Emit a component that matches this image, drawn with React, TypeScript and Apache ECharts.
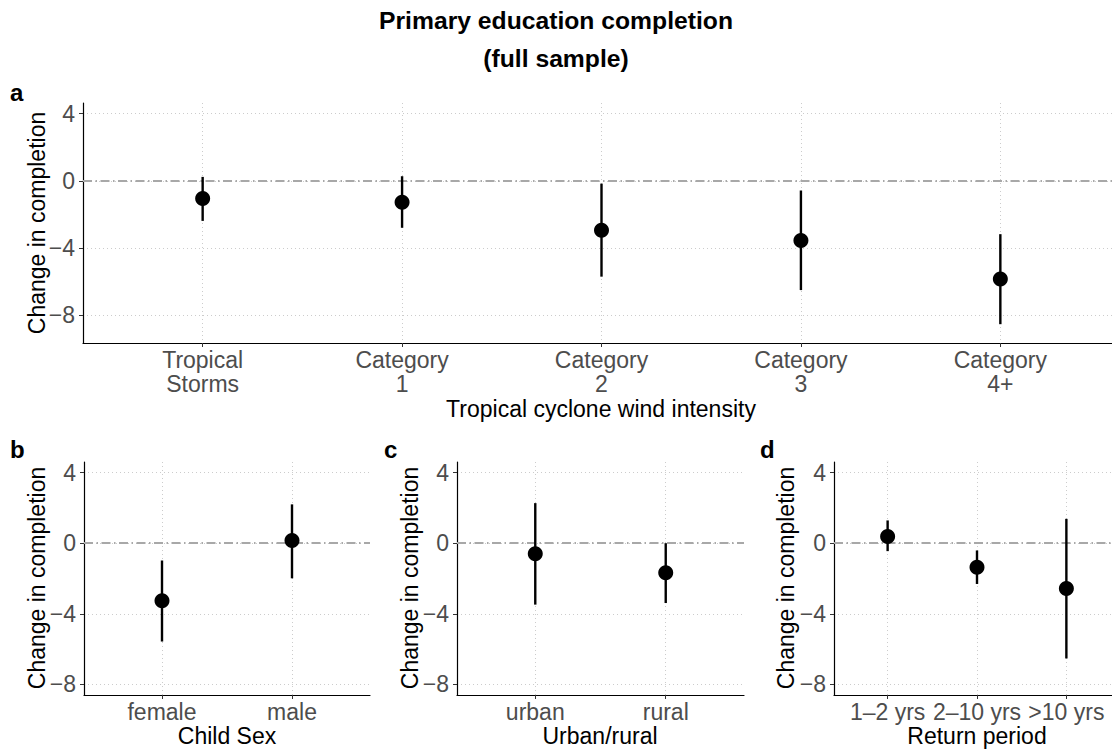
import React, { useEffect, useRef } from "react";
import * as echarts from "echarts";

// ---- data ----
const intensityCategories = ["Tropical\nStorms", "Category\n1", "Category\n2", "Category\n3", "Category\n4+"];
const intensityEstimate = [-1.05, -1.27, -2.93, -3.54, -5.84];
const intensityLower = [-2.38, -2.79, -5.7, -6.5, -8.53];
const intensityUpper = [0.24, 0.28, -0.16, -0.57, -3.17];

const sexCategories = ["female", "male"];
const sexEstimate = [-3.26, 0.15];
const sexLower = [-5.57, -1.99];
const sexUpper = [-0.98, 2.2];

const areaCategories = ["urban", "rural"];
const areaEstimate = [-0.6, -1.68];
const areaLower = [-3.48, -3.39];
const areaUpper = [2.27, 0.0];

const returnCategories = ["1–2 yrs", "2–10 yrs", ">10 yrs"];
const returnEstimate = [0.38, -1.36, -2.56];
const returnLower = [-0.45, -2.31, -6.53];
const returnUpper = [1.29, -0.41, 1.38];

const yTicks = [-8, -4, 0, 4];

const FONT = '"Liberation Sans", Arial, Helvetica, sans-serif';

type Panel = {
  cats: string[];
  est: number[];
  lo: number[];
  hi: number[];
  grid: { left: number; top: number; width: number; height: number };
  yMin: number;
  yMax: number;
  xTitle: string;
  xTitlePos: [number, number];
  yTitlePos: [number, number];
  tag: string;
  tagPos: [number, number];
};

const panels: Panel[] = [
  {
    cats: intensityCategories, est: intensityEstimate, lo: intensityLower, hi: intensityUpper,
    grid: { left: 83, top: 103, width: 1037, height: 240 }, yMin: -9.65, yMax: 4.64,
    xTitle: "Tropical cyclone wind intensity", xTitlePos: [601, 409], yTitlePos: [37, 223],
    tag: "a", tagPos: [10, 92],
  },
  {
    cats: sexCategories, est: sexEstimate, lo: sexLower, hi: sexUpper,
    grid: { left: 84, top: 462, width: 286, height: 233 }, yMin: -8.6, yMax: 4.6,
    xTitle: "Child Sex", xTitlePos: [227, 736], yTitlePos: [37, 578],
    tag: "b", tagPos: [10, 449],
  },
  {
    cats: areaCategories, est: areaEstimate, lo: areaLower, hi: areaUpper,
    grid: { left: 457, top: 462, width: 287, height: 233 }, yMin: -8.6, yMax: 4.6,
    xTitle: "Urban/rural", xTitlePos: [600, 736], yTitlePos: [410, 578],
    tag: "c", tagPos: [384, 449],
  },
  {
    cats: returnCategories, est: returnEstimate, lo: returnLower, hi: returnUpper,
    grid: { left: 834, top: 462, width: 286, height: 233 }, yMin: -8.6, yMax: 4.6,
    xTitle: "Return period", xTitlePos: [977, 736], yTitlePos: [786, 578],
    tag: "d", tagPos: [760, 449],
  },
];

function buildOption() {
  const grids: any[] = [];
  const xAxes: any[] = [];
  const yAxes: any[] = [];
  const series: any[] = [];
  const graphics: any[] = [];

  const gridLine = { show: true, lineStyle: { color: "#cccccc", width: 1, type: [1, 3] } };

  panels.forEach((p, i) => {
    grids.push({ ...p.grid, containLabel: false, outerBoundsMode: "none" });
    const xVals = p.cats.map((_, k) => k + 1);
    xAxes.push({
      type: "value",
      gridIndex: i,
      min: 0.4,
      max: p.cats.length + 0.6,
      axisLine: { show: true, onZero: false, lineStyle: { color: "#000", width: 1.2 } },
      axisTick: { show: true, customValues: xVals, length: 4, lineStyle: { color: "#333" } },
      axisLabel: {
        customValues: xVals,
        formatter: (v: number) => p.cats[Math.round(v) - 1] ?? "",
        fontSize: 23,
        lineHeight: 24,
        color: "#4d4d4d",
        margin: 5,
        fontFamily: FONT,
      },
      splitLine: gridLine,
    });
    yAxes.push({
      type: "value",
      gridIndex: i,
      min: p.yMin,
      max: p.yMax,
      axisLine: { show: true, onZero: false, lineStyle: { color: "#000", width: 1.2 } },
      axisTick: { show: true, customValues: yTicks, length: 4, lineStyle: { color: "#333" } },
      axisLabel: {
        customValues: yTicks,
        formatter: (v: number) => String(v).replace("-", "\u2212"),
        fontSize: 23,
        color: "#4d4d4d",
        margin: 8,
        fontFamily: FONT,
      },
      splitLine: gridLine,
    });

    series.push({
      type: "custom",
      xAxisIndex: i,
      yAxisIndex: i,
      z: 3,
      silent: true,
      data: p.cats.map((_, k) => [k + 1, p.lo[k], p.hi[k]]),
      renderItem: (_params: any, api: any) => {
        const x = api.value(0);
        const a = api.coord([x, api.value(1)]);
        const b = api.coord([x, api.value(2)]);
        return {
          type: "line",
          shape: { x1: a[0], y1: a[1], x2: b[0], y2: b[1] },
          style: { stroke: "#000", lineWidth: 2.4 },
        };
      },
      markLine: {
        silent: true,
        symbol: ["none", "none"],
        label: { show: false },
        lineStyle: { color: "#a8a8a8", width: 1.9, type: [9, 3.5, 1.5, 3.5] },
        data: [{ yAxis: 0 }],
        z: 2,
      },
    });
    series.push({
      type: "scatter",
      xAxisIndex: i,
      yAxisIndex: i,
      z: 4,
      symbol: "circle",
      symbolSize: 15,
      itemStyle: { color: "#000", opacity: 1 },
      silent: true,
      data: p.est.map((v, k) => [k + 1, v]),
    });

    graphics.push({
      type: "text",
      x: p.xTitlePos[0],
      y: p.xTitlePos[1],
      style: { text: p.xTitle, fill: "#000", fontSize: 23, fontFamily: FONT, align: "center", verticalAlign: "middle" },
    });
    graphics.push({
      type: "text",
      x: p.yTitlePos[0],
      y: p.yTitlePos[1],
      rotation: Math.PI / 2,
      style: { text: "Change in completion", fill: "#000", fontSize: 23, fontFamily: FONT, align: "center", verticalAlign: "middle" },
    });
    graphics.push({
      type: "text",
      x: p.tagPos[0],
      y: p.tagPos[1],
      style: { text: p.tag, fill: "#000", fontSize: 24, fontWeight: "bold", fontFamily: FONT, align: "left", verticalAlign: "middle" },
    });
  });

  graphics.push({
    type: "text",
    x: 556,
    y: 20,
    style: { text: "Primary education completion", fill: "#000", fontSize: 24.7, fontWeight: "bold", fontFamily: FONT, align: "center", verticalAlign: "middle" },
  });
  graphics.push({
    type: "text",
    x: 556,
    y: 58,
    style: { text: "(full sample)", fill: "#000", fontSize: 24.7, fontWeight: "bold", fontFamily: FONT, align: "center", verticalAlign: "middle" },
  });

  return {
    animation: false,
    backgroundColor: "#ffffff",
    textStyle: { fontFamily: FONT },
    grid: grids,
    xAxis: xAxes,
    yAxis: yAxes,
    series,
    graphic: graphics,
  };
}

export default function App() {
  const ref = useRef<HTMLDivElement>(null);
  useEffect(() => {
    document.body.style.margin = "0";
    if (!ref.current) return;
    const chart = echarts.init(ref.current, undefined, { renderer: "svg" });
    chart.setOption(buildOption() as any);
    return () => chart.dispose();
  }, []);
  return <div ref={ref} style={{ width: 1112, height: 751, background: "#fff" }} />;
}
